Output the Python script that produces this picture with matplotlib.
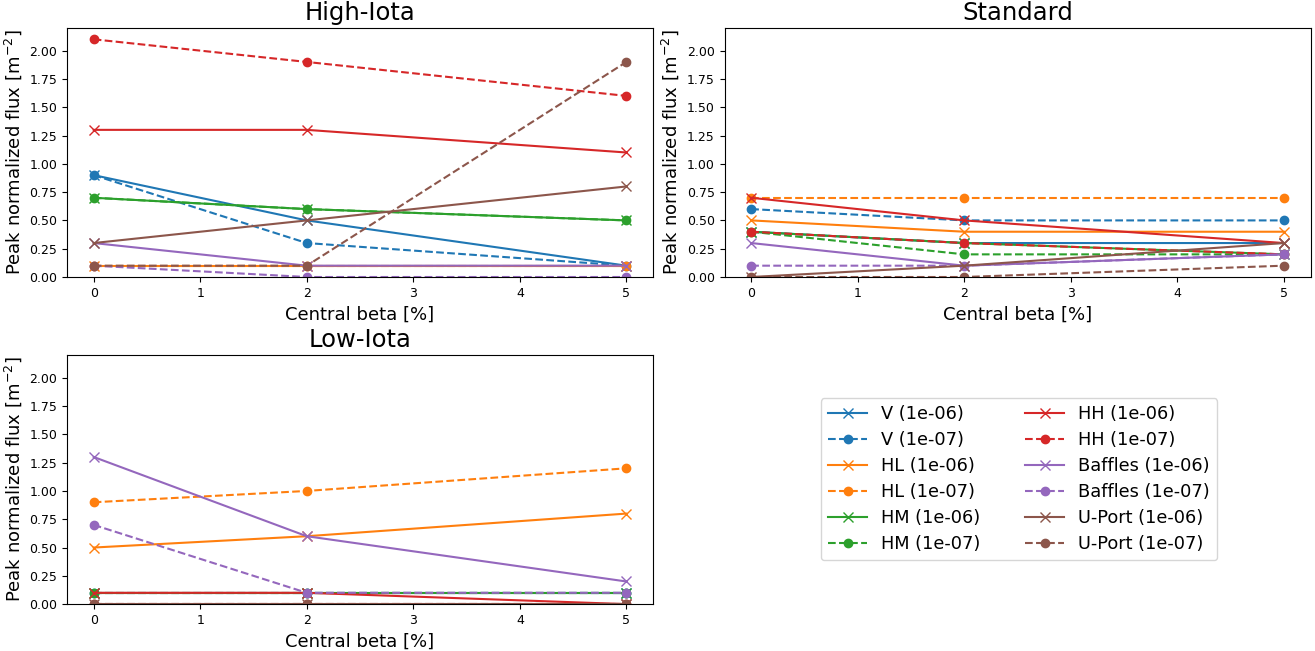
import matplotlib.pyplot as plt

beta = [0, 2, 5]
configs = ["High-Iota", "Standard", "Low-Iota"]
targets = ["V", "HL", "HM", "HH", "Baffles", "U-Port"]
thresholds = ["1e-06", "1e-07"]

# peak flux per config: target -> (1e-06 values, 1e-07 values)
high_iota = {
    "V": ([0.9, 0.5, 0.1], [0.9, 0.3, 0.1]),
    "HL": ([0.1, 0.1, 0.1], [0.1, 0.1, 0.1]),
    "HM": ([0.7, 0.6, 0.5], [0.7, 0.6, 0.5]),
    "HH": ([1.3, 1.3, 1.1], [2.1, 1.9, 1.6]),
    "Baffles": ([0.3, 0.1, 0.1], [0.1, 0.0, 0.0]),
    "U-Port": ([0.3, 0.5, 0.8], [0.1, 0.1, 1.9]),
}
standard = {
    "V": ([0.4, 0.3, 0.3], [0.6, 0.5, 0.5]),
    "HL": ([0.5, 0.4, 0.4], [0.7, 0.7, 0.7]),
    "HM": ([0.4, 0.3, 0.2], [0.4, 0.2, 0.2]),
    "HH": ([0.7, 0.5, 0.3], [0.4, 0.3, 0.2]),
    "Baffles": ([0.3, 0.1, 0.2], [0.1, 0.1, 0.2]),
    "U-Port": ([0.0, 0.1, 0.3], [0.0, 0.0, 0.1]),
}
low_iota = {
    "V": ([0.1, 0.1, 0.1], [0.1, 0.1, 0.1]),
    "HL": ([0.5, 0.6, 0.8], [0.9, 1.0, 1.2]),
    "HM": ([0.1, 0.1, 0.1], [0.1, 0.1, 0.1]),
    "HH": ([0.1, 0.1, 0.0], [0.0, 0.0, 0.0]),
    "Baffles": ([1.3, 0.6, 0.2], [0.7, 0.1, 0.1]),
    "U-Port": ([0.0, 0.0, 0.0], [0.0, 0.0, 0.0]),
}
data = [high_iota, standard, low_iota]

colors = ["tab:blue", "tab:orange", "tab:green", "tab:red", "tab:purple", "tab:brown"]

fig = plt.figure(figsize=(13.15, 6.51), dpi=100)
ax1 = fig.add_axes([0.051, 0.5745, 0.4456, 0.3825])
ax2 = fig.add_axes([0.551, 0.5745, 0.4456, 0.3825])
ax3 = fig.add_axes([0.051, 0.072, 0.4456, 0.3825])
axes = [ax1, ax2, ax3]

for ax, name, d in zip(axes, configs, data):
    for t, c in zip(targets, colors):
        ax.plot(beta, d[t][0], color=c, marker="x", linestyle="-", markersize=7,
                label=f"{t} ({thresholds[0]})")
        ax.plot(beta, d[t][1], color=c, marker="o", linestyle="--", markersize=6,
                label=f"{t} ({thresholds[1]})")
    ax.set_title(name, fontsize=17.5)
    ax.set_ylim(0, 2.2)
    ax.set_yticks([0, 0.25, 0.5, 0.75, 1.0, 1.25, 1.5, 1.75, 2.0])
    ax.set_xlabel("Central beta [%]", fontsize=13)
    ax.set_ylabel("Peak normalized flux [m$^{-2}$]", fontsize=13)
    ax.tick_params(labelsize=9)

handles, labels = ax1.get_legend_handles_labels()
fig.legend(handles, labels, loc="center", bbox_to_anchor=(0.775, 0.264),
           ncol=2, fontsize=12.8, handlelength=2.2, columnspacing=2.5,
           labelspacing=0.45)

fig.savefig("out.png")
